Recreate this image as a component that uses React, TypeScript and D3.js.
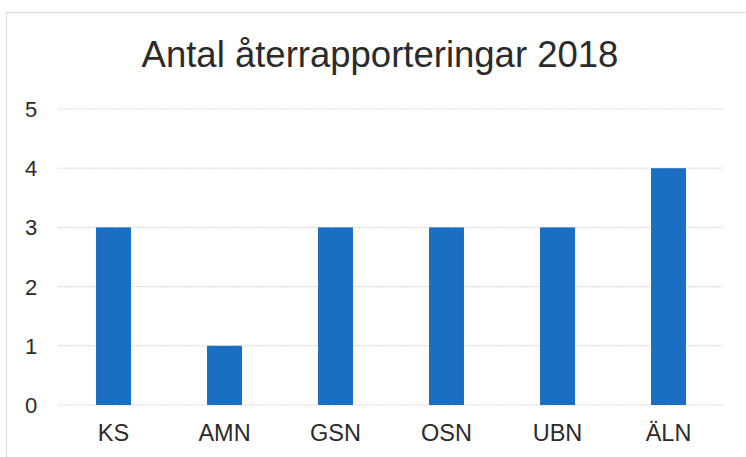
import React, { useEffect, useRef } from "react";
import * as d3 from "d3";

const categories = ["KS", "AMN", "GSN", "OSN", "UBN", "ÄLN"];
const values = [3, 1, 3, 3, 3, 4];
const yTicks = [0, 1, 2, 3, 4, 5];
const title = "Antal återrapporteringar 2018";

const App: React.FC = () => {
  const svgRef = useRef<SVGSVGElement>(null);

  useEffect(() => {
    if (!svgRef.current) return;
    const width = 746;
    const height = 457;
    const margin = { top: 109, right: 22, bottom: 52, left: 58 };
    const innerWidth = width - margin.left - margin.right;
    const innerHeight = height - margin.top - margin.bottom;

    const svg = d3.select(svgRef.current);
    svg.selectAll("*").remove();
    svg.attr("width", width).attr("height", height);

    svg
      .append("rect")
      .attr("width", width)
      .attr("height", height)
      .attr("fill", "white");

    // chart frame (only top and left edges show)
    svg
      .append("rect")
      .attr("x", 6.5)
      .attr("y", 12.5)
      .attr("width", width + 20)
      .attr("height", height + 20)
      .attr("fill", "none")
      .attr("stroke", "#cfcfcf")
      .attr("stroke-dasharray", "3,1");

    svg
      .append("text")
      .attr("x", 380)
      .attr("y", 67)
      .attr("text-anchor", "middle")
      .style("font-family", "Liberation Sans, Arial, sans-serif")
      .style("font-size", "36.5px")
      .attr("fill", "#2b2b2b")
      .text(title);

    const g = svg
      .append("g")
      .attr("transform", `translate(${margin.left},${margin.top})`);

    const x = d3
      .scaleBand()
      .domain(categories)
      .range([0, innerWidth])
      .paddingInner(0.685)
      .paddingOuter(0.3425);

    const y = d3.scaleLinear().domain([0, 5]).range([innerHeight, 0]);

    g.selectAll(".grid")
      .data(yTicks)
      .enter()
      .append("line")
      .attr("x1", 0)
      .attr("x2", innerWidth)
      .attr("y1", (d) => y(d))
      .attr("y2", (d) => y(d))
      .attr("stroke", "#d4d4d4")
      .attr("stroke-width", 1)
      .attr("stroke-dasharray", "2,1");

    g.selectAll(".bar")
      .data(values)
      .enter()
      .append("rect")
      .attr("x", (_, i) => x(categories[i])!)
      .attr("y", (d) => y(d))
      .attr("width", x.bandwidth())
      .attr("height", (d) => innerHeight - y(d))
      .attr("fill", "#1b6fc2");

    g.selectAll(".ytick")
      .data(yTicks)
      .enter()
      .append("text")
      .attr("x", -27)
      .attr("y", (d) => y(d))
      .attr("dy", "0.36em")
      .attr("text-anchor", "middle")
      .style("font-family", "Liberation Sans, Arial, sans-serif")
      .style("font-size", "22px")
      .attr("fill", "#2b2b2b")
      .text((d) => d);

    g.selectAll(".xtick")
      .data(categories)
      .enter()
      .append("text")
      .attr("x", (d) => x(d)! + x.bandwidth() / 2)
      .attr("y", innerHeight + 36)
      .attr("text-anchor", "middle")
      .style("font-family", "Liberation Sans, Arial, sans-serif")
      .style("font-size", "23.5px")
      .attr("fill", "#2b2b2b")
      .text((d) => d);
  }, []);

  return (
    <div style={{ position: "fixed", top: 0, left: 0 }}>
      <svg ref={svgRef} style={{ display: "block" }}></svg>
    </div>
  );
};

export default App;
